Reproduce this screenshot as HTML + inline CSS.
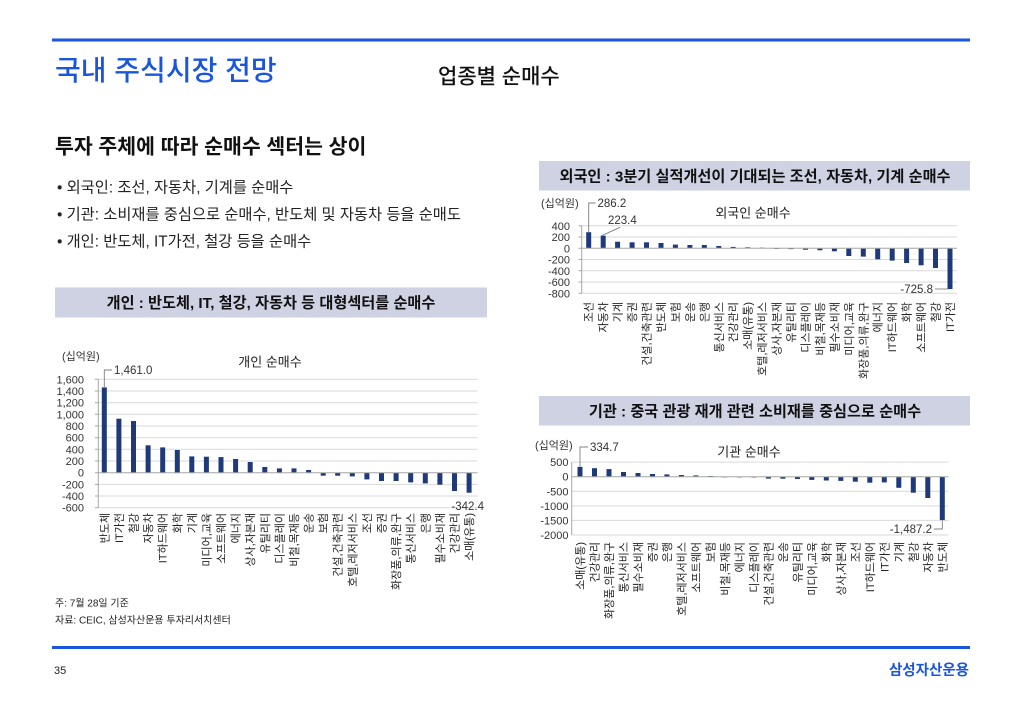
<!DOCTYPE html>
<html><head><meta charset="utf-8">
<style>
html,body{margin:0;padding:0;background:#fff;}
svg{display:block;}
text{font-family:"Liberation Sans","Noto Sans CJK KR","NanumGothic",sans-serif;}
.xl{font-size:11px;fill:#222;text-anchor:end;}
.yl{font-size:11px;fill:#333;text-anchor:end;}
.bar{fill:#1f3a7a;}
.grid{stroke:#d9d9d9;stroke-width:1;}
.ax{stroke:#a6a6a6;stroke-width:1;}
.lead{stroke:#808080;stroke-width:0.9;fill:none;}
.num{font-size:11.5px;fill:#333;}
.ct{font-size:13px;fill:#222;text-anchor:middle;}
.unit{font-size:11px;fill:#333;}
.hd{font-size:15.2px;fill:#111;text-anchor:middle;font-weight:600;}
.bl{font-size:15.3px;fill:#222;}
</style></head>
<body>
<svg width="1024" height="709" viewBox="0 0 1024 709" xmlns="http://www.w3.org/2000/svg">
<rect width="1024" height="709" fill="#fff"/>
<!-- header -->
<rect x="52" y="38.5" width="918" height="3" fill="#1a55e0"/>
<text x="55" y="80" style="font-size:28px;fill:#1a55e0;font-weight:500;">국내 주식시장 전망</text>
<text x="438" y="83.5" style="font-size:21px;fill:#111;font-weight:500;">업종별 순매수</text>
<text x="55" y="153.5" style="font-size:20.5px;fill:#111;font-weight:600;">투자 주체에 따라 순매수 섹터는 상이</text>
<text x="57" y="192.5" class="bl">• 외국인: 조선, 자동차, 기계를 순매수</text>
<text x="57" y="219.5" class="bl">• 기관: 소비재를 중심으로 순매수, 반도체 및 자동차 등을 순매도</text>
<text x="57" y="246.5" class="bl">• 개인: 반도체, IT가전, 철강 등을 순매수</text>

<!-- box headers -->
<rect x="55" y="287.5" width="432" height="30" fill="#ced2e3"/>
<text x="271" y="308" class="hd">개인 : 반도체, IT, 철강, 자동차 등 대형섹터를 순매수</text>
<rect x="539" y="161" width="431" height="29.5" fill="#ced2e3"/>
<text x="755" y="181.5" class="hd">외국인 : 3분기 실적개선이 기대되는 조선, 자동차, 기계 순매수</text>
<rect x="539" y="396" width="431" height="29.5" fill="#ced2e3"/>
<text x="755" y="416.5" class="hd">기관 : 중국 관광 재개 관련 소비재를 중심으로 순매수</text>

<!-- ============ LEFT CHART (개인) ============ -->
<text x="62" y="360" class="unit">(십억원)</text>
<text x="270" y="366.5" class="ct">개인 순매수</text>
<g>
<line class="grid" x1="98.3" x2="477.6" y1="379.3" y2="379.3"/>
<line class="grid" x1="98.3" x2="477.6" y1="391.0" y2="391.0"/>
<line class="grid" x1="98.3" x2="477.6" y1="402.7" y2="402.7"/>
<line class="grid" x1="98.3" x2="477.6" y1="414.3" y2="414.3"/>
<line class="grid" x1="98.3" x2="477.6" y1="426.0" y2="426.0"/>
<line class="grid" x1="98.3" x2="477.6" y1="437.7" y2="437.7"/>
<line class="grid" x1="98.3" x2="477.6" y1="449.3" y2="449.3"/>
<line class="grid" x1="98.3" x2="477.6" y1="461.0" y2="461.0"/>
<line class="grid" x1="98.3" x2="477.6" y1="484.4" y2="484.4"/>
<line class="grid" x1="98.3" x2="477.6" y1="496.0" y2="496.0"/>
<line class="grid" x1="98.3" x2="477.6" y1="507.7" y2="507.7"/>
<line class="ax" x1="98.3" x2="98.3" y1="379.3" y2="507.7"/>
<path class="ax" d="M95 379.3H98.3M95 391H98.3M95 402.7H98.3M95 414.3H98.3M95 426H98.3M95 437.7H98.3M95 449.3H98.3M95 461H98.3M95 472.7H98.3M95 484.4H98.3M95 496H98.3M95 507.7H98.3"/>
</g>
<g class="yl">
<text x="84" y="383.3">1,600</text><text x="84" y="395">1,400</text><text x="84" y="406.7">1,200</text><text x="84" y="418.3">1,000</text>
<text x="84" y="430">800</text><text x="84" y="441.7">600</text><text x="84" y="453.3">400</text><text x="84" y="465">200</text>
<text x="84" y="476.7">0</text><text x="84" y="488.4">-200</text><text x="84" y="500">-400</text><text x="84" y="511.7">-600</text>
</g>
<g class="bar">
<rect x="101.8" y="387.4" width="5" height="85.3"/>
<rect x="116.4" y="418.7" width="5" height="54.0"/>
<rect x="131.0" y="421.0" width="5" height="51.7"/>
<rect x="145.6" y="445.3" width="5" height="27.4"/>
<rect x="160.2" y="447.4" width="5" height="25.3"/>
<rect x="174.8" y="450.0" width="5" height="22.7"/>
<rect x="189.3" y="456.4" width="5" height="16.3"/>
<rect x="203.9" y="456.7" width="5" height="16.0"/>
<rect x="218.5" y="457.1" width="5" height="15.6"/>
<rect x="233.1" y="459.0" width="5" height="13.7"/>
<rect x="247.7" y="462.0" width="5" height="10.7"/>
<rect x="262.3" y="467.0" width="5" height="5.7"/>
<rect x="276.9" y="468.4" width="5" height="4.3"/>
<rect x="291.5" y="468.4" width="5" height="4.3"/>
<rect x="306.1" y="470.0" width="5" height="2.7"/>
<rect x="320.7" y="472.7" width="5" height="3.0"/>
<rect x="335.2" y="472.7" width="5" height="3.0"/>
<rect x="349.8" y="472.7" width="5" height="3.7"/>
<rect x="364.4" y="472.7" width="5" height="6.7"/>
<rect x="379.0" y="472.7" width="5" height="8.3"/>
<rect x="393.6" y="472.7" width="5" height="8.3"/>
<rect x="408.2" y="472.7" width="5" height="9.7"/>
<rect x="422.8" y="472.7" width="5" height="10.7"/>
<rect x="437.4" y="472.7" width="5" height="12.0"/>
<rect x="452.0" y="472.7" width="5" height="18.3"/>
<rect x="466.6" y="472.7" width="5" height="20.0"/>
</g>
<line class="ax" x1="98.3" x2="477.6" y1="472.7" y2="472.7"/>
<path class="lead" d="M104.3 387V370H112"/>
<text x="114" y="374" class="num">1,461.0</text>
<text x="484" y="510" class="num" text-anchor="end">-342.4</text>
<g class="xl">
<text transform="translate(108.3,513) rotate(-90)">반도체</text>
<text transform="translate(122.9,513) rotate(-90)">IT가전</text>
<text transform="translate(137.5,513) rotate(-90)">철강</text>
<text transform="translate(152.1,513) rotate(-90)">자동차</text>
<text transform="translate(166.7,513) rotate(-90)">IT하드웨어</text>
<text transform="translate(181.3,513) rotate(-90)">화학</text>
<text transform="translate(195.8,513) rotate(-90)">기계</text>
<text transform="translate(210.4,513) rotate(-90)">미디어,교육</text>
<text transform="translate(225.0,513) rotate(-90)">소프트웨어</text>
<text transform="translate(239.6,513) rotate(-90)">에너지</text>
<text transform="translate(254.2,513) rotate(-90)">상사,자본재</text>
<text transform="translate(268.8,513) rotate(-90)">유틸리티</text>
<text transform="translate(283.4,513) rotate(-90)">디스플레이</text>
<text transform="translate(298.0,513) rotate(-90)">비철,목재등</text>
<text transform="translate(312.6,513) rotate(-90)">운송</text>
<text transform="translate(327.2,513) rotate(-90)">보험</text>
<text transform="translate(341.7,513) rotate(-90)">건설,건축관련</text>
<text transform="translate(356.3,513) rotate(-90)">호텔,레저서비스</text>
<text transform="translate(370.9,513) rotate(-90)">조선</text>
<text transform="translate(385.5,513) rotate(-90)">증권</text>
<text transform="translate(400.1,513) rotate(-90)">화장품,의류,완구</text>
<text transform="translate(414.7,513) rotate(-90)">통신서비스</text>
<text transform="translate(429.3,513) rotate(-90)">은행</text>
<text transform="translate(443.9,513) rotate(-90)">필수소비재</text>
<text transform="translate(458.5,513) rotate(-90)">건강관리</text>
<text transform="translate(473.1,513) rotate(-90)">소매(유통)</text>
</g>

<!-- ============ RIGHT TOP CHART (외국인) ============ -->
<text x="541" y="207" class="unit">(십억원)</text>
<text x="753" y="217.5" class="ct">외국인 순매수</text>
<g>
<line class="grid" x1="581.7" x2="957" y1="225.8" y2="225.8"/>
<line class="grid" x1="581.7" x2="957" y1="237.05" y2="237.05"/>
<line class="grid" x1="581.7" x2="957" y1="259.55" y2="259.55"/>
<line class="grid" x1="581.7" x2="957" y1="270.8" y2="270.8"/>
<line class="grid" x1="581.7" x2="957" y1="282.05" y2="282.05"/>
<line class="grid" x1="581.7" x2="957" y1="293.3" y2="293.3"/>
<line class="ax" x1="581.7" x2="581.7" y1="225.8" y2="293.3"/>
<path class="ax" d="M578.5 225.8H581.7M578.5 237.05H581.7M578.5 248.3H581.7M578.5 259.55H581.7M578.5 270.8H581.7M578.5 282.05H581.7M578.5 293.3H581.7"/>
</g>
<g class="yl">
<text x="570" y="229.8">400</text><text x="570" y="241">200</text><text x="570" y="252.3">0</text>
<text x="570" y="263.5">-200</text><text x="570" y="274.8">-400</text><text x="570" y="286">-600</text><text x="570" y="297.3">-800</text>
</g>
<g class="bar">
<rect x="586.2" y="232.2" width="5" height="16.1"/>
<rect x="600.7" y="235.7" width="5" height="12.6"/>
<rect x="615.1" y="241.7" width="5" height="6.6"/>
<rect x="629.6" y="242.3" width="5" height="6.0"/>
<rect x="644.0" y="242.3" width="5" height="6.0"/>
<rect x="658.5" y="243.0" width="5" height="5.3"/>
<rect x="672.9" y="244.6" width="5" height="3.7"/>
<rect x="687.4" y="245.0" width="5" height="3.3"/>
<rect x="701.8" y="245.0" width="5" height="3.3"/>
<rect x="716.3" y="246.0" width="5" height="2.3"/>
<rect x="730.7" y="246.9" width="5" height="1.4"/>
<rect x="745.2" y="247.3" width="5" height="1.0"/>
<rect x="759.6" y="247.7" width="5" height="0.6"/>
<rect x="774.1" y="248.3" width="5" height="0.6"/>
<rect x="788.5" y="248.3" width="5" height="0.8"/>
<rect x="803.0" y="248.3" width="5" height="1.4"/>
<rect x="817.4" y="248.3" width="5" height="2.0"/>
<rect x="831.9" y="248.3" width="5" height="3.0"/>
<rect x="846.3" y="248.3" width="5" height="7.7"/>
<rect x="860.8" y="248.3" width="5" height="8.3"/>
<rect x="875.2" y="248.3" width="5" height="11.0"/>
<rect x="889.7" y="248.3" width="5" height="12.3"/>
<rect x="904.1" y="248.3" width="5" height="14.7"/>
<rect x="918.6" y="248.3" width="5" height="17.0"/>
<rect x="933.0" y="248.3" width="5" height="19.7"/>
<rect x="947.5" y="248.3" width="5" height="40.8"/>
</g>
<line class="ax" x1="581.7" x2="957" y1="248.3" y2="248.3"/>
<path class="lead" d="M588.7 232V203H595.5"/>
<text x="597.5" y="207" class="num">286.2</text>
<path class="lead" d="M601.7 235.7L620 227.3"/>
<text x="608" y="224" class="num">223.4</text>
<path class="lead" d="M935 289H947.5"/>
<text x="933" y="293" class="num" text-anchor="end">-725.8</text>
<g class="xl">
<text transform="translate(592.7,302) rotate(-90)">조선</text>
<text transform="translate(607.2,302) rotate(-90)">자동차</text>
<text transform="translate(621.6,302) rotate(-90)">기계</text>
<text transform="translate(636.1,302) rotate(-90)">증권</text>
<text transform="translate(650.5,302) rotate(-90)">건설,건축관련</text>
<text transform="translate(665.0,302) rotate(-90)">반도체</text>
<text transform="translate(679.4,302) rotate(-90)">보험</text>
<text transform="translate(693.9,302) rotate(-90)">운송</text>
<text transform="translate(708.3,302) rotate(-90)">은행</text>
<text transform="translate(722.8,302) rotate(-90)">통신서비스</text>
<text transform="translate(737.2,302) rotate(-90)">건강관리</text>
<text transform="translate(751.7,302) rotate(-90)">소매(유통)</text>
<text transform="translate(766.1,302) rotate(-90)">호텔,레저서비스</text>
<text transform="translate(780.6,302) rotate(-90)">상사,자본재</text>
<text transform="translate(795.0,302) rotate(-90)">유틸리티</text>
<text transform="translate(809.5,302) rotate(-90)">디스플레이</text>
<text transform="translate(823.9,302) rotate(-90)">비철,목재등</text>
<text transform="translate(838.4,302) rotate(-90)">필수소비재</text>
<text transform="translate(852.8,302) rotate(-90)">미디어,교육</text>
<text transform="translate(867.3,302) rotate(-90)">화장품,의류,완구</text>
<text transform="translate(881.7,302) rotate(-90)">에너지</text>
<text transform="translate(896.2,302) rotate(-90)">IT하드웨어</text>
<text transform="translate(910.6,302) rotate(-90)">화학</text>
<text transform="translate(925.1,302) rotate(-90)">소프트웨어</text>
<text transform="translate(939.5,302) rotate(-90)">철강</text>
<text transform="translate(954.0,302) rotate(-90)">IT가전</text>
</g>

<!-- ============ RIGHT BOTTOM CHART (기관) ============ -->
<text x="535" y="449" class="unit">(십억원)</text>
<text x="749" y="456.5" class="ct">기관 순매수</text>
<g>
<line class="grid" x1="571.7" x2="948.5" y1="462.1" y2="462.1"/>
<line class="grid" x1="571.7" x2="948.5" y1="491.3" y2="491.3"/>
<line class="grid" x1="571.7" x2="948.5" y1="505.9" y2="505.9"/>
<line class="grid" x1="571.7" x2="948.5" y1="520.4" y2="520.4"/>
<line class="grid" x1="571.7" x2="948.5" y1="535.0" y2="535.0"/>
<line class="ax" x1="571.7" x2="571.7" y1="462.1" y2="535"/>
</g>
<g class="yl">
<text x="568.5" y="466.1">500</text><text x="568.5" y="480.7">0</text><text x="568.5" y="495.3">-500</text>
<text x="568.5" y="509.9">-1000</text><text x="568.5" y="524.4">-1500</text><text x="568.5" y="539">-2000</text>
</g>
<g class="bar">
<rect x="577.5" y="466.9" width="5" height="9.8"/>
<rect x="592.0" y="468.2" width="5" height="8.5"/>
<rect x="606.5" y="469.1" width="5" height="7.6"/>
<rect x="621.0" y="472.0" width="5" height="4.7"/>
<rect x="635.5" y="473.0" width="5" height="3.7"/>
<rect x="650.0" y="474.0" width="5" height="2.7"/>
<rect x="664.4" y="474.4" width="5" height="2.3"/>
<rect x="678.9" y="475.0" width="5" height="1.7"/>
<rect x="693.4" y="475.4" width="5" height="1.3"/>
<rect x="707.9" y="476.0" width="5" height="0.7"/>
<rect x="722.4" y="476.7" width="5" height="0.6"/>
<rect x="736.9" y="476.7" width="5" height="0.7"/>
<rect x="751.4" y="476.7" width="5" height="0.8"/>
<rect x="765.9" y="476.7" width="5" height="1.9"/>
<rect x="780.4" y="476.7" width="5" height="2.0"/>
<rect x="794.9" y="476.7" width="5" height="2.3"/>
<rect x="809.3" y="476.7" width="5" height="3.2"/>
<rect x="823.8" y="476.7" width="5" height="3.8"/>
<rect x="838.3" y="476.7" width="5" height="4.2"/>
<rect x="852.8" y="476.7" width="5" height="5.0"/>
<rect x="867.3" y="476.7" width="5" height="6.0"/>
<rect x="881.8" y="476.7" width="5" height="5.7"/>
<rect x="896.3" y="476.7" width="5" height="11.1"/>
<rect x="910.8" y="476.7" width="5" height="16.0"/>
<rect x="925.3" y="476.7" width="5" height="21.3"/>
<rect x="939.8" y="476.7" width="5" height="43.4"/>
</g>
<line class="ax" x1="571.7" x2="948.5" y1="476.7" y2="476.7"/>
<path class="lead" d="M580 467V447H588"/>
<text x="590" y="451" class="num">334.7</text>
<path class="lead" d="M934 529H942.3V520.5"/>
<text x="932" y="533" class="num" text-anchor="end">-1,487.2</text>
<g class="xl">
<text transform="translate(584.0,542) rotate(-90)">소매(유통)</text>
<text transform="translate(598.5,542) rotate(-90)">건강관리</text>
<text transform="translate(613.0,542) rotate(-90)">화장품,의류,완구</text>
<text transform="translate(627.5,542) rotate(-90)">통신서비스</text>
<text transform="translate(642.0,542) rotate(-90)">필수소비재</text>
<text transform="translate(656.5,542) rotate(-90)">증권</text>
<text transform="translate(670.9,542) rotate(-90)">은행</text>
<text transform="translate(685.4,542) rotate(-90)">호텔,레저서비스</text>
<text transform="translate(699.9,542) rotate(-90)">소프트웨어</text>
<text transform="translate(714.4,542) rotate(-90)">보험</text>
<text transform="translate(728.9,542) rotate(-90)">비철,목재등</text>
<text transform="translate(743.4,542) rotate(-90)">에너지</text>
<text transform="translate(757.9,542) rotate(-90)">디스플레이</text>
<text transform="translate(772.4,542) rotate(-90)">건설,건축관련</text>
<text transform="translate(786.9,542) rotate(-90)">운송</text>
<text transform="translate(801.4,542) rotate(-90)">유틸리티</text>
<text transform="translate(815.8,542) rotate(-90)">미디어,교육</text>
<text transform="translate(830.3,542) rotate(-90)">화학</text>
<text transform="translate(844.8,542) rotate(-90)">상사,자본재</text>
<text transform="translate(859.3,542) rotate(-90)">조선</text>
<text transform="translate(873.8,542) rotate(-90)">IT하드웨어</text>
<text transform="translate(888.3,542) rotate(-90)">IT가전</text>
<text transform="translate(902.8,542) rotate(-90)">기계</text>
<text transform="translate(917.3,542) rotate(-90)">철강</text>
<text transform="translate(931.8,542) rotate(-90)">자동차</text>
<text transform="translate(946.3,542) rotate(-90)">반도체</text>
</g>

<!-- footnotes -->
<text x="55" y="606.5" style="font-size:10px;fill:#222;">주: 7월 28일 기준</text>
<text x="55" y="623.5" style="font-size:10px;fill:#222;">자료: CEIC, 삼성자산운용 투자리서치센터</text>

<!-- footer -->
<rect x="52" y="646" width="918" height="3" fill="#1a55e0"/>
<text x="54" y="674" style="font-size:11px;fill:#222;">35</text>
<text x="969" y="675" style="font-size:14.5px;fill:#1a55e0;font-weight:700;text-anchor:end;">삼성자산운용</text>
</svg>
</body></html>
